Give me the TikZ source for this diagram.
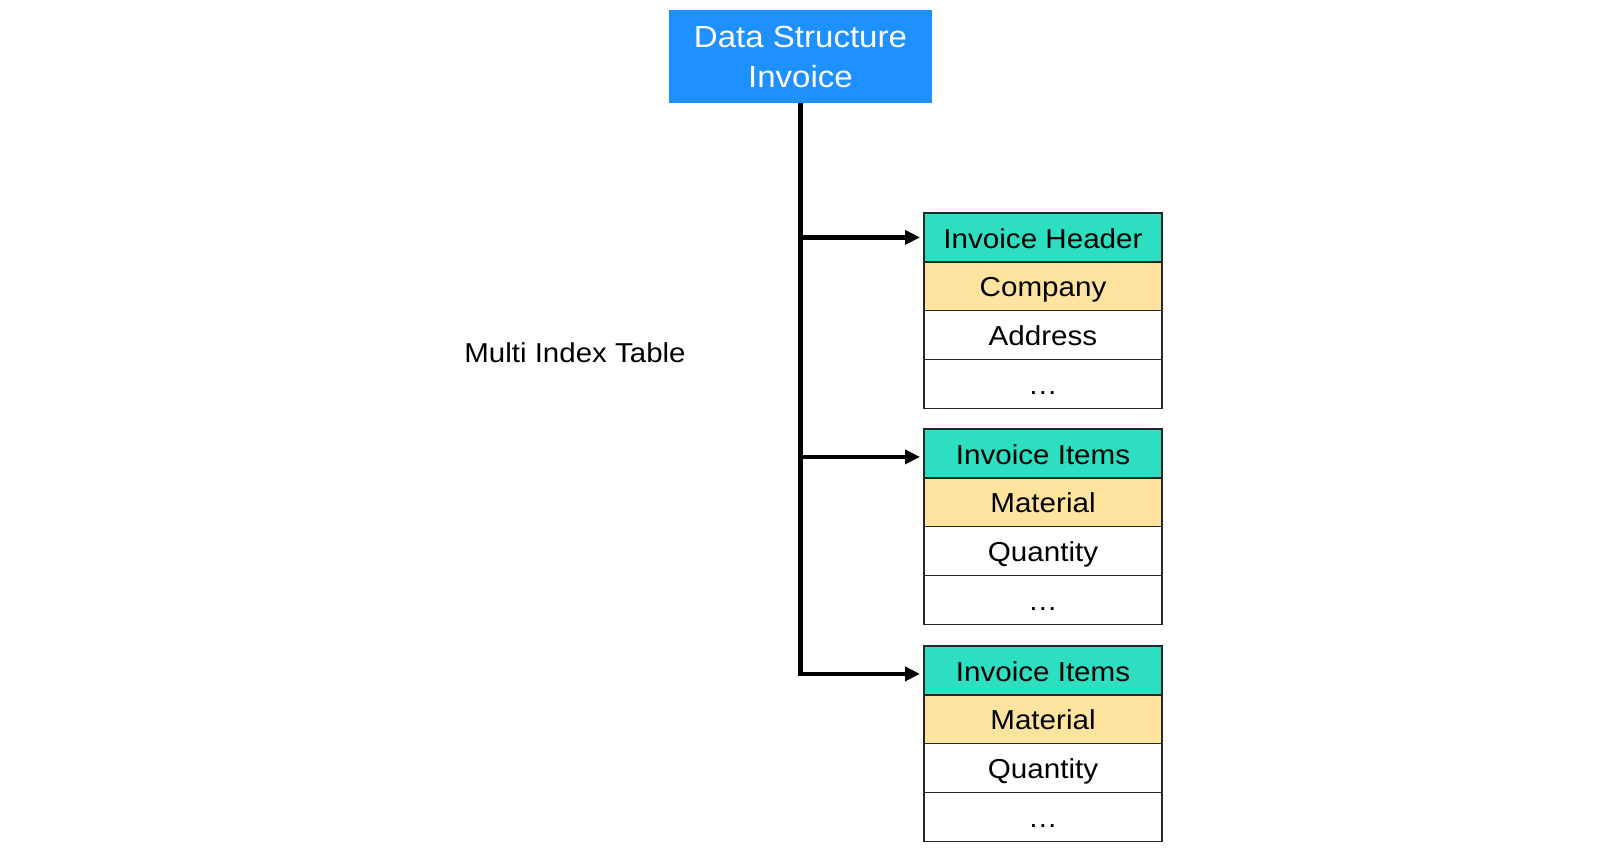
\documentclass[tikz,border=0pt]{standalone}
\usepackage{fontspec}
\setmainfont[FakeStretch=1.08]{Liberation Sans}
\usetikzlibrary{arrows.meta}
\definecolor{dsblue}{RGB}{30,144,255}
\definecolor{hdrteal}{RGB}{45,222,192}
\definecolor{keyyellow}{RGB}{255,228,160}
\begin{document}
\begin{tikzpicture}[x=0.5pt,y=-0.5pt,
  row/.style={draw=black!85, line width=0.7pt, minimum width=119pt, minimum height=24.4pt,
    inner sep=0pt, outer sep=0pt, anchor=north west, text height=11.7pt, text depth=1.1pt,
    font=\fontsize{13.7}{16}\selectfont, text=black},
  hdr/.style={row, fill=hdrteal},
  keyrow/.style={row, fill=keyyellow},
  plainrow/.style={row, fill=white},
  link/.style={line width=2.3pt, line join=miter, -{Triangle[length=7.5pt,width=7pt]}, shorten >=2pt}
]
\useasboundingbox (0,0) rectangle (1600,852);
\node[fill=dsblue, text=white, minimum width=131.5pt, minimum height=46.5pt, inner sep=0pt, outer sep=0pt,
  align=center, font=\fontsize{15.3}{20}\selectfont] (root) at (800.5,56.5) {Data Structure\\Invoice};

% table 1
\node[hdr] (h1) at (924,213) {Invoice Header};
\node[keyrow] (k1) at (h1.south west) {Company};
\node[plainrow] (a1) at (k1.south west) {Address};
\node[plainrow] (e1) at (a1.south west) {…};
% table 2
\node[hdr] (h2) at (924,429) {Invoice Items};
\node[keyrow] (k2) at (h2.south west) {Material};
\node[plainrow] (a2) at (k2.south west) {Quantity};
\node[plainrow] (e2) at (a2.south west) {…};
% table 3
\node[hdr] (h3) at (924,646) {Invoice Items};
\node[keyrow] (k3) at (h3.south west) {Material};
\node[plainrow] (a3) at (k3.south west) {Quantity};
\node[plainrow] (e3) at (a3.south west) {…};

\node[font=\fontsize{13.65}{16}\selectfont] (label) at (575,353) {Multi Index Table};

\coordinate (t2) at ([yshift=-1.75pt]h2.west);
\coordinate (t3) at ([yshift=-1.75pt]h3.west);
\draw[link] (root.south) |- (t3);
\draw[link] (root.south |- h1.west) -- (h1.west);
\draw[link] (root.south |- t2) -- (t2);
\end{tikzpicture}
\end{document}
